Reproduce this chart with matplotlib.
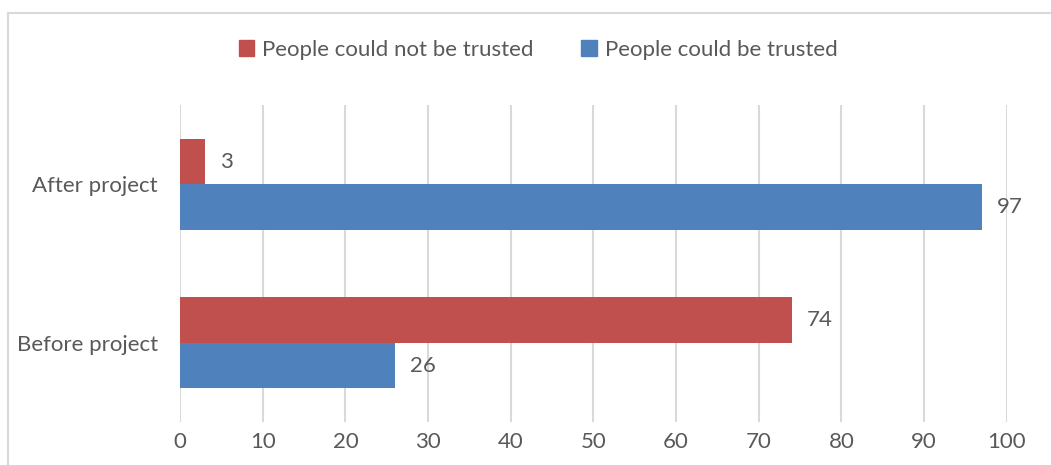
import matplotlib.pyplot as plt
import numpy as np
from matplotlib.lines import Line2D

plt.rcParams['font.family'] = ['Lato', 'DejaVu Sans']

categories = ['Before project', 'After project']
not_trusted = [74, 3]
trusted = [26, 97]
series_names = ['People could not be trusted', 'People could be trusted']
xticks = list(range(0, 101, 10))

red = '#C0504D'
blue = '#4F81BD'
txt = '#595959'
grid = '#D9D9D9'

fig = plt.figure(figsize=(10.51, 4.65), dpi=100)
ax = fig.add_axes([0.1713, 0.0925, 0.7867, 0.6815])

y = np.arange(len(categories))
h = 0.287
b1 = ax.barh(y + h / 2, not_trusted, height=h, color=red, label=series_names[0], zorder=3)
b2 = ax.barh(y - h / 2, trusted, height=h, color=blue, label=series_names[1], zorder=3)

for bars, vals in ((b1, not_trusted), (b2, trusted)):
    for bar, v in zip(bars, vals):
        ax.annotate(str(v), (bar.get_width(), bar.get_y() + bar.get_height() / 2),
                    xytext=(11, 0), textcoords='offset points', va='center', ha='left',
                    fontsize=16, color=txt)

ax.set_xlim(0, 100)
ax.set_ylim(-0.5, 1.5)
ax.set_xticks(xticks)
ax.set_yticks(y)
ax.set_yticklabels(categories)
ax.tick_params(length=0, labelsize=16, labelcolor=txt)
ax.tick_params(axis='x', pad=7)
ax.tick_params(axis='y', pad=16)
ax.xaxis.grid(True, color=grid, linewidth=1.5, zorder=0)
for s in ax.spines.values():
    s.set_visible(False)

handles = [plt.Rectangle((0, 0), 1, 1, color=red), plt.Rectangle((0, 0), 1, 1, color=blue)]
fig.legend(handles, series_names, loc='center', bbox_to_anchor=(0.512, 0.893), ncol=2,
           frameon=False, fontsize=16, labelcolor=txt, handlelength=0.7, handleheight=0.7,
           handletextpad=0.35, columnspacing=2.15)

# chart border
fig.add_artist(Line2D([8 / 1051, 8 / 1051], [0, 1 - 13 / 465], color=grid, lw=1.5, transform=fig.transFigure))
fig.add_artist(Line2D([8 / 1051, 1], [1 - 13 / 465, 1 - 13 / 465], color=grid, lw=1.5, transform=fig.transFigure))

fig.savefig('out.png', dpi=100)
